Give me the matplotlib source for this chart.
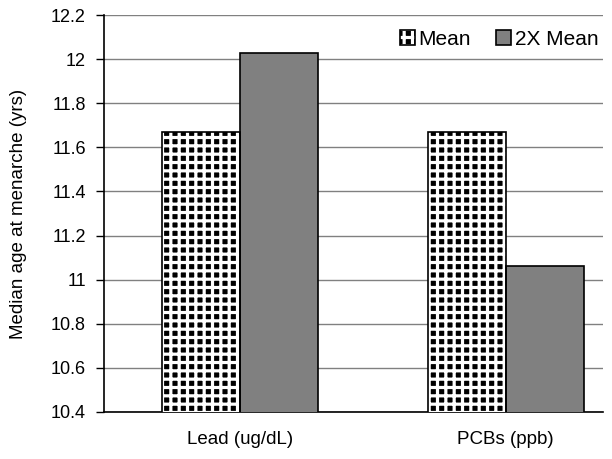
import numpy as np
import matplotlib.pyplot as plt
from matplotlib.patches import Patch
from matplotlib.legend_handler import HandlerTuple

plt.rcParams['font.family'] = ['Liberation Sans', 'DejaVu Sans']
plt.rcParams['hatch.linewidth'] = 2.3

categories = ['Lead (ug/dL)', 'PCBs (ppb)']
mean_vals = [11.67, 11.67]
mean2x_vals = [12.03, 11.06]
yticks = [10.4, 10.6, 10.8, 11, 11.2, 11.4, 11.6, 11.8, 12, 12.2]
ytick_labels = ['10.4', '10.6', '10.8', '11', '11.2', '11.4', '11.6', '11.8', '12', '12.2']

fig = plt.figure(figsize=(6.12, 4.59), dpi=100)
ax = fig.add_axes([0.170, 0.1024, 0.815, 0.8649])

x = np.arange(len(categories))
w = 0.293
# dotted fill: black face with white grid hatch, then black outline on top
ax.bar(x - w/2, mean_vals, w, color='black', edgecolor='white', hatch='++',
       linewidth=0, zorder=3)
ax.bar(x - w/2, mean_vals, w, fill=False, edgecolor='black', linewidth=1.2, zorder=4)
ax.bar(x + w/2, mean2x_vals, w, color='#808080', edgecolor='black',
       linewidth=1.2, zorder=3)

ax.set_ylim(10.4, 12.2)
ax.set_xlim(-0.511, 1.365)
ax.set_yticks(yticks)
ax.set_yticklabels(ytick_labels, fontsize=13)
ax.set_xticks(x)
ax.set_xticklabels(categories, fontsize=13.5)
ax.tick_params(axis='x', length=0, pad=14)
ax.tick_params(axis='y', length=6, width=1, direction='out', pad=7)
ax.set_ylabel('Median age at menarche (yrs)', fontsize=13.5, labelpad=17)

ax.grid(axis='y', color='#808080', linewidth=1, zorder=0)
ax.spines['top'].set_visible(False)
ax.spines['right'].set_visible(False)
ax.spines['left'].set_linewidth(1.2)
ax.spines['bottom'].set_linewidth(1.2)

h_mean = (Patch(facecolor='black', edgecolor='white', hatch='++', linewidth=0),
          Patch(fill=False, edgecolor='black', linewidth=1.2))
h_2x = Patch(facecolor='#808080', edgecolor='black', linewidth=1.2)
ax.legend([h_mean, h_2x], ['Mean', '2X Mean'], handler_map={tuple: HandlerTuple(ndivide=1)},
          loc='upper right', ncol=2, frameon=False, fontsize=15,
          handlelength=0.7, handleheight=0.7, handletextpad=0.2, columnspacing=1.2,
          bbox_to_anchor=(1.025, 1.005), borderaxespad=0.4)

fig.savefig('out.png', dpi=100)
